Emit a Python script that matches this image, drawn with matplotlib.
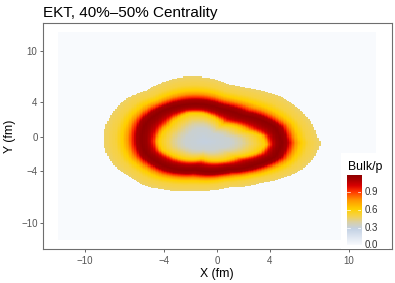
import numpy as np
import matplotlib
matplotlib.use("Agg")
import matplotlib.pyplot as plt
from matplotlib.colors import LinearSegmentedColormap, Normalize
from matplotlib.patches import Rectangle

plt.rcParams['font.family'] = ['Liberation Sans', 'DejaVu Sans']

# ---------------- data ----------------
title = "EKT, 40%\u201350% Centrality"
x_ticks = [-10, -4, 0, 4, 10]
y_ticks = [-10, -4, 0, 4, 10]
cbar_ticks = [0.0, 0.3, 0.6, 0.9]
value_max = 1.19

# grid of the field (fm)
grid_lo, grid_hi, grid_step = -12.0, 12.0, 0.12

# centre of the ring
ring_center = (-0.9, -0.6)

# outer (freeze-out) boundary of the fireball
outer_x = [-8.62, -7.73, -6.72, -5.45, -4.18, -2.92, -1.65, -0.38, 0.88, 2.15, 3.42, 4.68,
           5.95, 6.97, 7.60, 7.86, 7.47, 6.46, 4.68, 3.42, 0.88, -1.65, -4.18, -5.45,
           -6.72, -7.98, -8.49]
outer_y = [-0.30, 3.10, 4.46, 5.23, 6.20, 6.79, 6.90, 6.67, 6.00, 5.63, 5.23, 4.65,
           3.49, 1.94, 0.00, -0.77, -2.30, -3.87, -5.03, -5.42, -6.00, -6.40, -6.20, -5.80,
           -4.65, -3.10, -1.55]

# ridge of maximum Bulk/p (dark red ring)
peak_x = [-5.70, -5.35, -4.18, -2.66, -1.14, 0.38, 1.90, 3.42, 4.43, 4.90, 4.43, 2.91,
          0.88, -1.65, -4.18, -5.35]
peak_y = [-0.39, 1.55, 2.91, 3.55, 3.65, 3.15, 2.40, 1.80, 0.97, -0.77, -2.40, -3.35,
          -3.85, -3.90, -3.35, -2.13]

# inner yellow contour (Bulk/p ~ 0.6)
inner_x = [-4.40, -3.55, -2.16, -1.14, 0.38, 2.15, 3.30, 3.65, 3.05, 1.39, -1.14, -3.30, -4.15]
inner_y = [-0.58, 1.16, 2.60, 2.60, 1.30, 0.55, 0.00, -0.97, -1.85, -2.40, -2.60, -2.25, -1.55]

# radial profiles between the contours
core_u = [0.0, 0.45, 0.65, 0.85, 1.0]
core_v = [0.28, 0.31, 0.40, 0.50, 0.60]
mid_t = [0.0, 0.15, 0.32, 0.52, 0.75, 1.0]
mid_v = [0.60, 0.72, 0.90, 1.05, 1.14, 1.18]
rim_t = [0.0, 0.15, 0.22, 0.34, 0.48, 0.7, 1.0]
rim_v = [1.18, 1.10, 0.95, 0.78, 0.62, 0.50, 0.45]

# colour scale
cmap_vals = [0.0, 0.27, 0.38, 0.48, 0.60, 0.75, 0.90, 1.00, 1.10, 1.19]
cmap_cols = ['#f8fafd', '#c3d1e4', '#d9d0a8', '#f5d24e', '#ffd000', '#ff9800',
             '#ff3300', '#d80000', '#a80000', '#8b0000']

# ---------------- build the field ----------------
cx, cy = ring_center


def polar_curve(xs, ys):
    ang = np.arctan2(np.asarray(ys) - cy, np.asarray(xs) - cx)
    rad = np.hypot(np.asarray(xs) - cx, np.asarray(ys) - cy)
    o = np.argsort(ang)
    return ang[o], rad[o]


def radius_at(theta, curve):
    a, r = curve
    return np.interp(theta, a, r, period=2 * np.pi)


gx = np.arange(grid_lo, grid_hi + grid_step / 2, grid_step)
gy = np.arange(grid_lo, grid_hi + grid_step / 2, grid_step)
X, Y = np.meshgrid(gx, gy)
TH = np.arctan2(Y - cy, X - cx)
R = np.hypot(X - cx, Y - cy)

R_out = radius_at(TH, polar_curve(outer_x, outer_y))
R_pk = radius_at(TH, polar_curve(peak_x, peak_y))
R_in = radius_at(TH, polar_curve(inner_x, inner_y))

Z = np.zeros_like(R)
m1 = R <= R_in
Z[m1] = np.interp(R[m1] / R_in[m1], core_u, core_v)
m2 = (R > R_in) & (R <= R_pk)
Z[m2] = np.interp((R[m2] - R_in[m2]) / (R_pk[m2] - R_in[m2]), mid_t, mid_v)
m3 = (R > R_pk) & (R <= R_out)
Z[m3] = np.interp((R[m3] - R_pk[m3]) / (R_out[m3] - R_pk[m3]), rim_t, rim_v)

cmap = LinearSegmentedColormap.from_list(
    'bulk', list(zip(np.array(cmap_vals) / value_max, cmap_cols)))
norm = Normalize(0, value_max)

# ---------------- figure ----------------
W, H = 395, 283
fig = plt.figure(figsize=(W / 100, H / 100), dpi=100)


def fx(px):
    return px / W


def fy(py):
    return 1 - py / H


ax = fig.add_axes([fx(42.7), fy(249.3), fx(391.7) - fx(42.7), fy(23.3) - fy(249.3)])
ax.imshow(Z, origin='lower', cmap=cmap, norm=norm, interpolation='nearest',
          extent=[grid_lo - grid_step / 2, grid_hi + grid_step / 2,
                  grid_lo - grid_step / 2, grid_hi + grid_step / 2],
          aspect='auto')
ax.set_xlim(-13.22, 13.27)
ax.set_ylim(-13.1, 13.2)
ax.set_xticks(x_ticks)
ax.set_yticks(y_ticks)
ax.set_xticklabels(['\u221210', '\u22124', '0', '4', '10'])
ax.set_yticklabels(['\u221210', '\u22124', '0', '4', '10'])
ax.tick_params(axis='both', length=2.2, width=0.6, color='#4d4d4d',
               labelcolor='#555555', labelsize=7)
ax.tick_params(axis='x', pad=2.4)
ax.tick_params(axis='y', pad=1.5)
for s in ax.spines.values():
    s.set_color('#6e6e6e')
    s.set_linewidth(0.8)

fig.text(fx(43), fy(16.7), title, fontsize=11, color='black', va='baseline', ha='left')
fig.text(fx(216.7), fy(277.0), 'X (fm)', fontsize=8.8, va='baseline', ha='center')
fig.text(fx(10.5), fy(136.7), 'Y (fm)', fontsize=8.8, va='center', ha='center', rotation=90)

# legend (inside panel, bottom right)
ax.add_patch(Rectangle((fx(341), fy(250)), fx(389) - fx(341), fy(153) - fy(250),
                       transform=fig.transFigure, facecolor='white', edgecolor='none',
                       zorder=3))
fig.text(fx(347.7), fy(170), 'Bulk/p', fontsize=8.8, va='baseline', ha='left')
cax = fig.add_axes([fx(346.7), fy(245.3), fx(361) - fx(346.7), fy(175.2) - fy(245.3)])
grad = np.linspace(0, value_max, 300).reshape(-1, 1)
cax.imshow(grad, origin='lower', cmap=cmap, norm=norm, aspect='auto',
           extent=[0, 1, 0, value_max])
cax.set_xlim(0, 1)
cax.set_ylim(0, value_max)
cax.set_xticks([])
cax.set_yticks([])
for s in cax.spines.values():
    s.set_visible(False)
for t in cbar_ticks:
    cax.plot([0, 0.2], [t, t], color='white', lw=0.5)
    cax.plot([0.8, 1.0], [t, t], color='white', lw=0.5)
    cax.text(1.0 + 3.3 / 14.3, t, f'{t:.1f}', fontsize=7, color='#333333',
             va='center', ha='left', transform=cax.transData, clip_on=False)

fig.savefig('out.png', dpi=100)
